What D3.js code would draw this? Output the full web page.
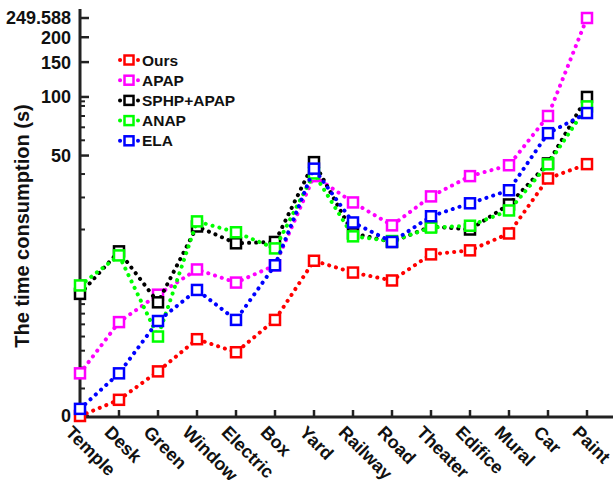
<!DOCTYPE html>
<html>
<head>
<meta charset="utf-8">
<script src="https://cdn.jsdelivr.net/npm/d3@7"></script>
<style>
  body { margin: 0; background: #fff; }
  text { font-family: Arial, "Liberation Sans", sans-serif; font-weight: bold; }
</style>
</head>
<body>
<script>
var width = 615, height = 480;

var scenes = ["Temple", "Desk", "Green", "Window", "Electric", "Box", "Yard",
              "Railway", "Road", "Theater", "Edifice", "Mural", "Car", "Paint"];
var ours = [0, 0.55, 1.8, 3.8, 2.9, 5.4, 13.2, 11.2, 10.0, 14.4, 15.2, 19.0, 37.9, 45.1];
var apap = [1.7, 5.2, 8.1, 11.7, 9.7, 12.4, 39.0, 28.2, 21.1, 30.4, 39.0, 44.5, 80.0, 249.588];
var sphp = [8.2, 15.0, 7.2, 20.8, 16.7, 17.0, 46.2, 19.0, 17.0, 20.8, 20.0, 27.5, 45.5, 100];
var anap = [9.3, 14.2, 4.0, 22.2, 19.3, 15.6, 40.3, 18.3, 17.2, 20.5, 21.0, 25.5, 45.0, 89.5];
var ela  = [0.23, 1.7, 5.3, 8.7, 5.4, 12.4, 42.7, 21.9, 17.0, 23.7, 27.9, 32.8, 65.3, 82.8];

var seriesNames = ["Ours", "APAP", "SPHP+APAP", "ANAP", "ELA"];
var seriesColors = ["#ff0000", "#ff00ff", "#000000", "#00ff00", "#0000ff"];
var seriesValues = [ours, apap, sphp, anap, ela];

var yMajor = [0, 50, 100, 150, 200, 249.588];
var yMinor = [1, 2, 3, 4, 5, 6, 7, 8, 9, 10, 20, 30, 40, 60, 70, 80, 90, 95];

// the axis is log(t + c), so that 0 can sit on it
var C = 2.72;
var plotLeft = 80, plotRight = 613, plotTop = 18, plotBottom = 416;

var x = d3.scalePoint().domain(scenes).range([plotLeft, 587]);
var ylog = d3.scaleLog().domain([C, 249.588 + C]).range([plotBottom, plotTop]);
function y(v) { return ylog(v + C); }

var svg = d3.select("body").append("svg")
  .attr("width", width)
  .attr("height", height);

// y axis
var yAxis = svg.append("g").attr("transform", "translate(" + plotLeft + ",0)");
yAxis.append("line").attr("x1", 0).attr("x2", 0).attr("y1", 9).attr("y2", plotBottom + 3)
  .attr("stroke", "#222").attr("stroke-width", 3);
yAxis.selectAll(".major").data(yMajor).enter().append("line")
  .attr("x1", 0).attr("x2", 9)
  .attr("y1", function(d) { return y(d); }).attr("y2", function(d) { return y(d); })
  .attr("stroke", "#222").attr("stroke-width", 2.5);
yAxis.selectAll(".minor").data(yMinor).enter().append("line")
  .attr("x1", 0).attr("x2", 5)
  .attr("y1", function(d) { return y(d); }).attr("y2", function(d) { return y(d); })
  .attr("stroke", "#222").attr("stroke-width", 2);
yAxis.selectAll("text").data(yMajor).enter().append("text")
  .attr("x", -9).attr("y", function(d) { return y(d); })
  .attr("dy", "0.36em").attr("text-anchor", "end")
  .attr("font-size", 18).attr("fill", "#111")
  .text(function(d) { return d; });

// x axis
var xAxis = svg.append("g").attr("transform", "translate(0," + (plotBottom + 1) + ")");
xAxis.append("line").attr("x1", plotLeft - 1).attr("x2", plotRight).attr("y1", 0).attr("y2", 0)
  .attr("stroke", "#222").attr("stroke-width", 3);
xAxis.selectAll(".tick").data(scenes).enter().append("line")
  .attr("x1", function(d) { return x(d); }).attr("x2", function(d) { return x(d); })
  .attr("y1", 0).attr("y2", -7)
  .attr("stroke", "#222").attr("stroke-width", 2.5);
xAxis.selectAll("text").data(scenes).enter().append("text")
  .attr("transform", function(d) { return "translate(" + (x(d) - 11) + ",12) rotate(45)"; })
  .attr("font-size", 18).attr("fill", "#111")
  .attr("dy", "0.35em")
  .text(function(d) { return d; });

svg.append("text")
  .attr("transform", "translate(29,226) rotate(-90)")
  .attr("text-anchor", "middle").attr("font-size", 20).attr("fill", "#111")
  .text("The time consumption (s)");

// series
var line = d3.line()
  .x(function(d, i) { return x(scenes[i]); })
  .y(function(d) { return y(d); });

seriesValues.forEach(function(vals, k) {
  var g = svg.append("g");
  g.append("path").datum(vals)
    .attr("d", line).attr("fill", "none")
    .attr("stroke", seriesColors[k]).attr("stroke-width", 4)
    .attr("stroke-linecap", "round").attr("stroke-dasharray", "0.1 7");
  g.selectAll("rect").data(vals).enter().append("rect")
    .attr("x", function(d, i) { return x(scenes[i]) - 5; })
    .attr("y", function(d) { return y(d) - 5; })
    .attr("width", 10).attr("height", 10)
    .attr("fill", "white").attr("stroke", seriesColors[k]).attr("stroke-width", 2.5);
});

// legend
var legend = svg.append("g").attr("transform", "translate(118,60)");
seriesNames.forEach(function(name, k) {
  var row = legend.append("g").attr("transform", "translate(0," + (k * 20.2) + ")");
  row.append("line").attr("x1", 2).attr("x2", 20).attr("y1", 0).attr("y2", 0)
    .attr("stroke", seriesColors[k]).attr("stroke-width", 4)
    .attr("stroke-linecap", "round").attr("stroke-dasharray", "0.1 8.9");
  row.append("rect").attr("x", 6.5).attr("y", -4.5).attr("width", 9).attr("height", 9)
    .attr("fill", "white").attr("stroke", seriesColors[k]).attr("stroke-width", 2.5);
  row.append("text").attr("x", 24).attr("y", 0).attr("dy", "0.36em")
    .attr("font-size", 15.5).attr("fill", "#111").text(name);
});
</script>
</body>
</html>
